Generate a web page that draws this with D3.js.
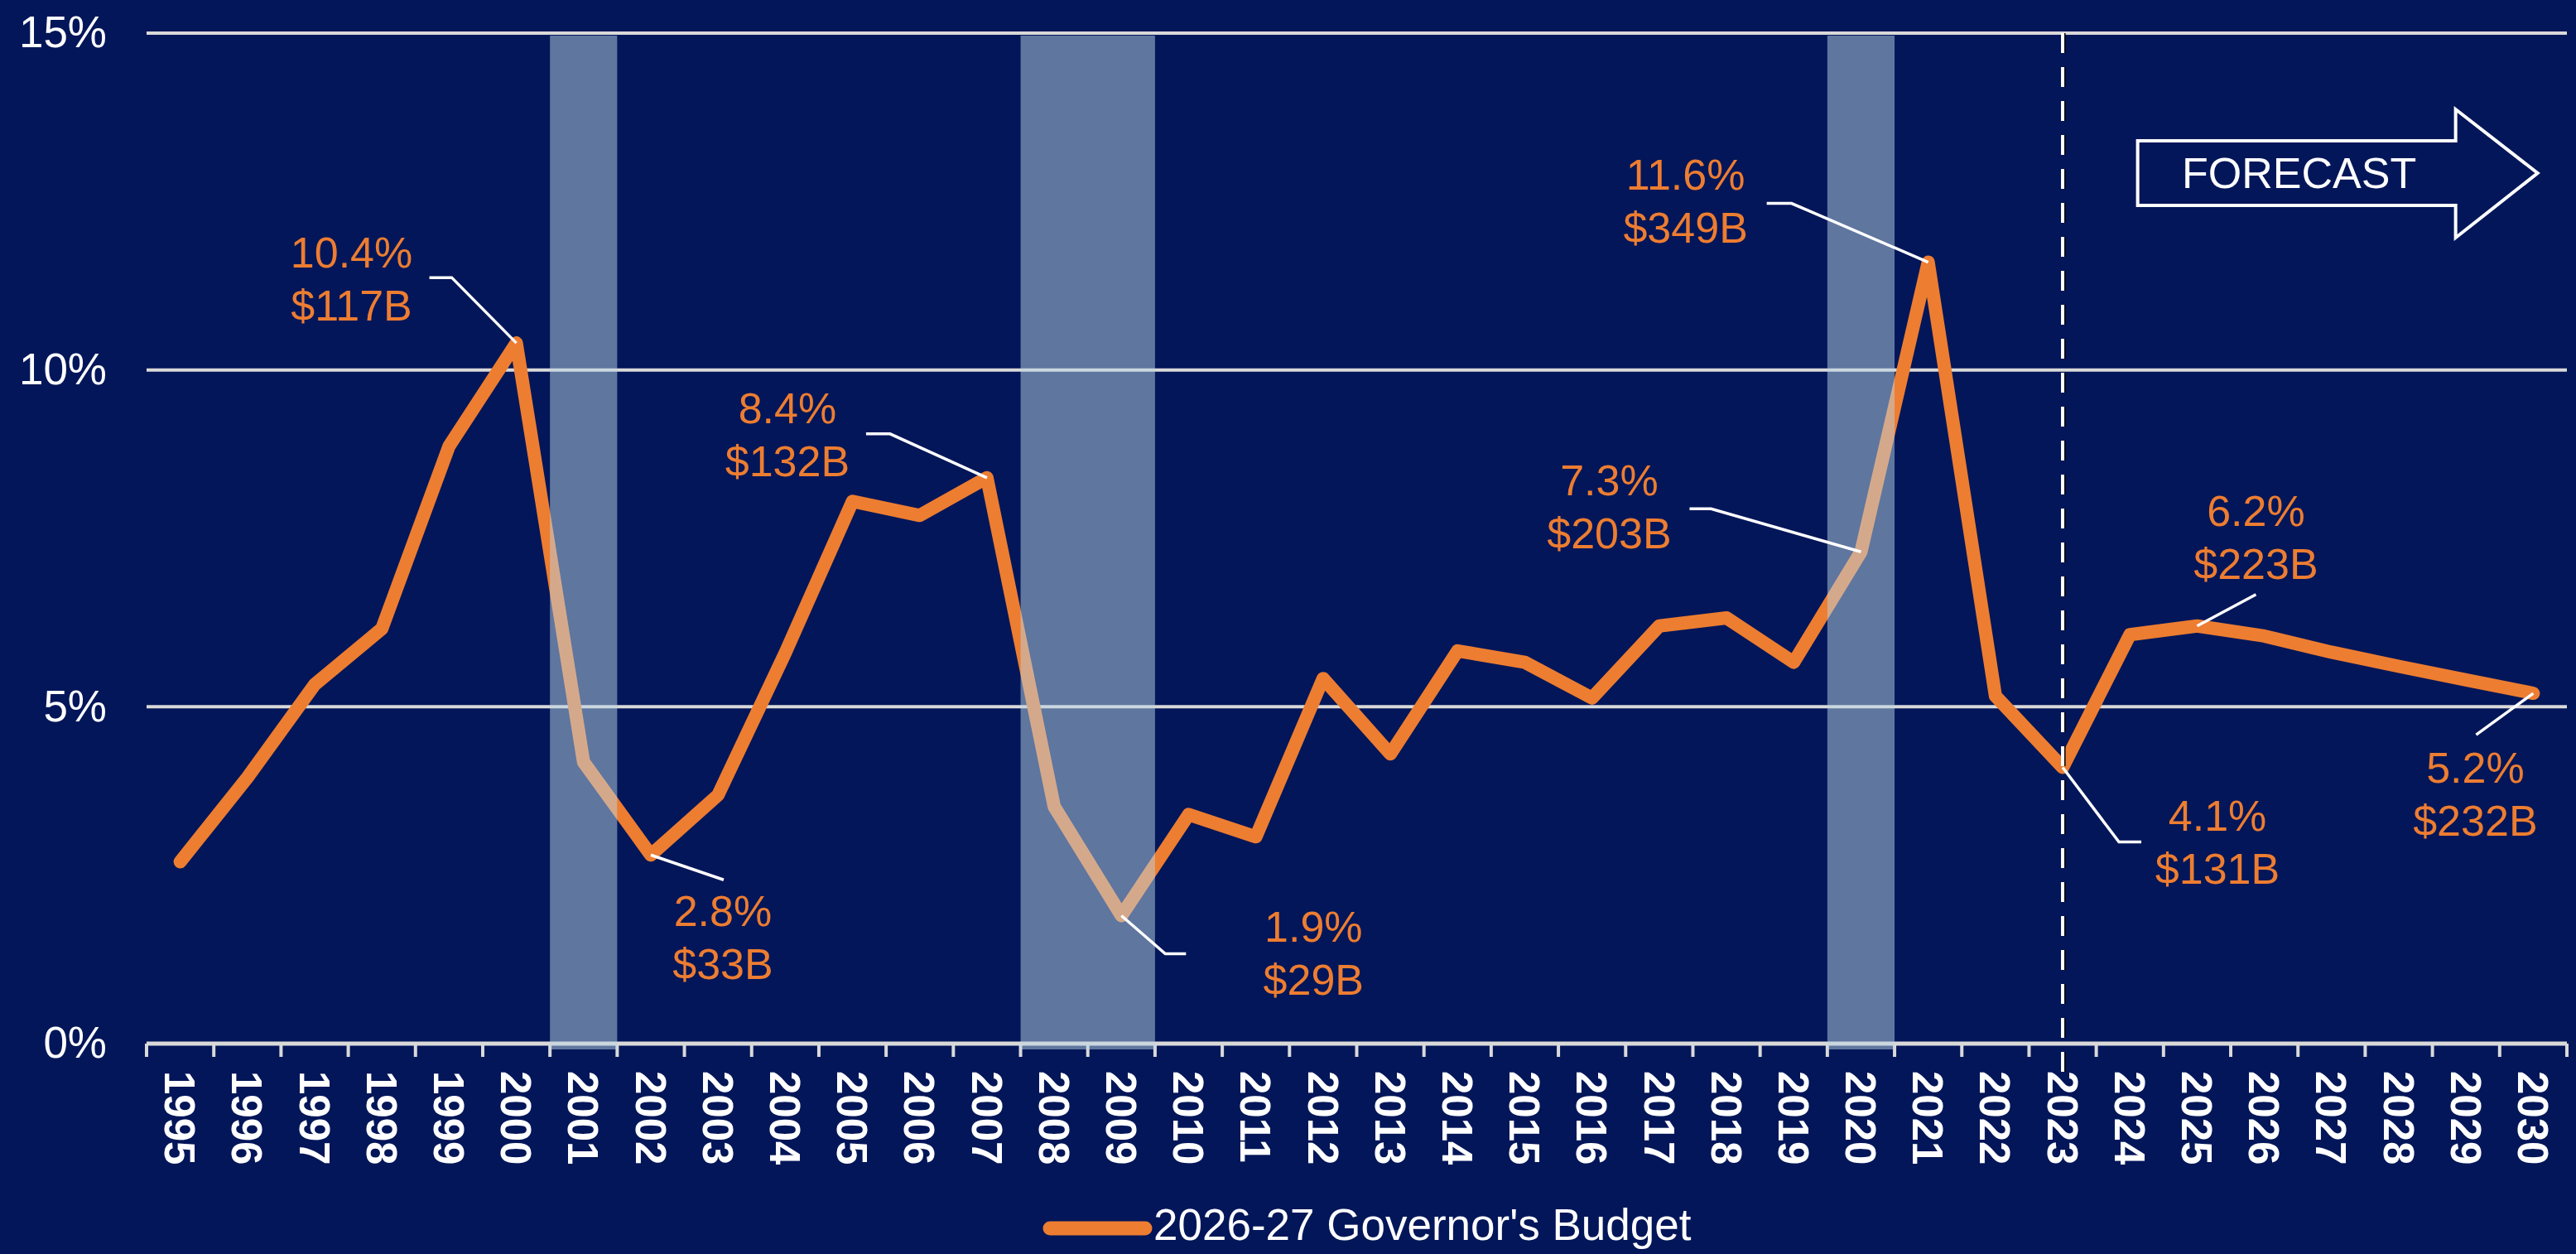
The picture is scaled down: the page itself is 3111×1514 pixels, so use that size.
<!DOCTYPE html>
<html>
<head>
  <meta charset="UTF-8">
  <title>Revenue growth – 2026-27 Governor's Budget</title>
  <script src="https://d3js.org/d3.v7.min.js"></script>
  <style>
    body { margin: 0; background: #031659; }
    svg { font-family: "Liberation Sans", Arial, sans-serif; display: block; }
    .tick-label { fill: #fff; }
    .callout { fill: #ED7D31; font-size: 52px; text-anchor: middle; }
  </style>
</head>
<body>
  <svg></svg>
  <script>
    const years = d3.range(1995, 2031).map(String);
    const growth = [2.7, 3.95, 5.33, 6.16, 8.87, 10.4, 4.18, 2.8, 3.69, 5.8,
                    8.05, 7.84, 8.4, 3.52, 1.9, 3.4, 3.07, 5.42, 4.3, 5.83,
                    5.66, 5.13, 6.2, 6.32, 5.66, 7.3, 11.6, 5.16, 4.1, 6.07,
                    6.2, 6.05, 5.81, 5.6, 5.4, 5.2];
    const yTicks = [0, 5, 10, 15];
    const recessionStart = ['2001', '2008', '2020'];
    const recessionEnd = ['2001', '2009', '2020'];
    const forecastYear = '2023';
    const calloutYears = ['2000', '2002', '2007', '2009', '2020', '2021', '2023', '2025', '2030'];
    const calloutPct = ['10.4%', '2.8%', '8.4%', '1.9%', '7.3%', '11.6%', '4.1%', '6.2%', '5.2%'];
    const calloutAmt = ['$117B', '$33B', '$132B', '$29B', '$203B', '$349B', '$131B', '$223B', '$232B'];
    const seriesName = "2026-27 Governor's Budget";

    const W = 3111, H = 1514;
    const margin = { top: 40, right: 11, bottom: 254, left: 177 };

    const svg = d3.select('svg').attr('width', W).attr('height', H);

    const x = d3.scaleBand()
      .domain(years)
      .range([margin.left, W - margin.right])
      .padding(0);

    const y = d3.scaleLinear()
      .domain([0, 15])
      .range([H - margin.bottom, margin.top]);

    const cx = d => x(d) + x.bandwidth() / 2;
    const data = years.map((yr, i) => ({ year: yr, value: growth[i] }));

    // gridlines
    svg.append('g')
      .selectAll('line')
      .data(yTicks.filter(d => d > 0))
      .join('line')
      .attr('x1', x.range()[0])
      .attr('x2', x.range()[1])
      .attr('y1', d => y(d))
      .attr('y2', d => y(d))
      .attr('stroke', '#d9d9d9')
      .attr('stroke-width', 4);

    // y axis labels
    const yAxis = svg.append('g')
      .attr('transform', `translate(${margin.left},0)`)
      .call(d3.axisLeft(y).tickValues(yTicks).tickFormat(d => d + '%').tickSize(0).tickPadding(48));
    yAxis.select('.domain').remove();
    yAxis.selectAll('text')
      .attr('class', 'tick-label')
      .style('font-size', '53px')
      .attr('font-family', null);

    // x axis labels
    const xAxis = svg.append('g')
      .attr('transform', `translate(0,${y(0)})`)
      .call(d3.axisBottom(x).tickSize(0).tickPadding(0));
    xAxis.select('.domain').remove();
    xAxis.selectAll('text')
      .attr('class', 'tick-label')
      .attr('font-family', null)
      .style('font-size', '51px')
      .style('font-weight', 'bold')
      .style('text-anchor', 'start')
      .attr('transform', 'rotate(90)')
      .attr('x', 33)
      .attr('y', 0)
      .attr('dy', '0.36em');

    // axis line + tick marks between categories
    svg.append('line')
      .attr('x1', x.range()[0])
      .attr('x2', x.range()[1])
      .attr('y1', y(0))
      .attr('y2', y(0))
      .attr('stroke', '#d9d9d9')
      .attr('stroke-width', 5);

    const edges = years.map(d => x(d)).concat([x.range()[1]]);
    svg.append('g')
      .selectAll('line')
      .data(edges)
      .join('line')
      .attr('x1', d => d)
      .attr('x2', d => d)
      .attr('y1', y(0))
      .attr('y2', y(0) + 16)
      .attr('stroke', '#d9d9d9')
      .attr('stroke-width', 4);

    // the series
    const line = d3.line()
      .x(d => cx(d.year))
      .y(d => y(d.value));

    svg.append('path')
      .datum(data)
      .attr('fill', 'none')
      .attr('stroke', '#ED7D31')
      .attr('stroke-width', 16)
      .attr('stroke-linejoin', 'round')
      .attr('stroke-linecap', 'round')
      .attr('d', line);

    // recession shading (drawn over the line, semi-transparent)
    svg.append('g')
      .selectAll('rect')
      .data(recessionStart.map((s, i) => ({ s, e: recessionEnd[i] })))
      .join('rect')
      .attr('x', d => x(d.s))
      .attr('width', d => x(d.e) + x.bandwidth() - x(d.s))
      .attr('y', y(15) + 3)
      .attr('height', y(0) - y(15) + 4)
      .attr('fill', '#bcd6e5')
      .attr('fill-opacity', 0.5);

    // forecast divider
    const fx = cx(forecastYear);
    svg.append('line')
      .attr('x1', fx + 1.5).attr('x2', fx + 1.5)
      .attr('y1', y(15)).attr('y2', y(0) + 38)
      .attr('stroke', '#000')
      .attr('stroke-width', 4)
      .attr('stroke-dasharray', '24 17');
    svg.append('line')
      .attr('x1', fx).attr('x2', fx)
      .attr('y1', y(15)).attr('y2', y(0) + 38)
      .attr('stroke', '#fff')
      .attr('stroke-width', 4)
      .attr('stroke-dasharray', '24 17');

    // forecast arrow
    const ax = x('2024') + 50, ay = 209;
    svg.append('path')
      .attr('d', `M${ax},${ay - 39}H${ax + 384}V${ay - 77}L${ax + 483},${ay}L${ax + 384},${ay + 78}V${ay + 39}H${ax}Z`)
      .attr('fill', 'none')
      .attr('stroke', '#fff')
      .attr('stroke-width', 4)
      .attr('stroke-linejoin', 'miter');
    svg.append('text')
      .attr('x', ax + 195)
      .attr('y', ay + 18)
      .attr('text-anchor', 'middle')
      .attr('fill', '#fff')
      .style('font-size', '52px')
      .text('FORECAST');

    // callouts: label centre / first baseline and leader bends, relative to the point
    const calloutLayout = {
      '2000': { dx: -199, dy: -91, leader: [[-78, -79], [-105, -79]] },
      '2002': { dx: 87, dy: 86, leader: [[88, 30]] },
      '2007': { dx: -241, dy: -66, leader: [[-117, -53], [-146, -53]] },
      '2009': { dx: 232, dy: 32, leader: [[53, 46], [78, 46]] },
      '2020': { dx: -304, dy: -68, leader: [[-181, -52], [-207, -52]] },
      '2021': { dx: -293, dy: -88, leader: [[-165, -71], [-195, -71]] },
      '2023': { dx: 187, dy: 76, leader: [[68, 90], [95, 90]] },
      '2025': { dx: 71, dy: -121, leader: [[71, -38]] },
      '2030': { dx: -70, dy: 108, leader: [[-69, 50]] }
    };

    calloutYears.forEach((yr, i) => {
      const v = growth[years.indexOf(yr)];
      const px = cx(yr), py = y(v);
      const lay = calloutLayout[yr];
      const pts = [[px, py]].concat(lay.leader.map(([a, b]) => [px + a, py + b]));
      svg.append('path')
        .attr('d', d3.line()(pts))
        .attr('fill', 'none')
        .attr('stroke', '#fff')
        .attr('stroke-width', 3.5);
      const t = svg.append('text')
        .attr('class', 'callout')
        .attr('x', px + lay.dx)
        .attr('y', py + lay.dy);
      t.append('tspan').attr('x', px + lay.dx).text(calloutPct[i]);
      t.append('tspan').attr('x', px + lay.dx).attr('dy', 64).text(calloutAmt[i]);
    });

    // legend
    const lg = svg.append('g').attr('transform', `translate(1268,1483)`);
    lg.append('line')
      .attr('x1', 0).attr('x2', 115)
      .attr('stroke', '#ED7D31')
      .attr('stroke-width', 17)
      .attr('stroke-linecap', 'round');
    lg.append('text')
      .attr('x', 125)
      .attr('y', 14)
      .attr('fill', '#fff')
      .style('font-size', '53px')
      .text(seriesName);
  </script>
</body>
</html>
